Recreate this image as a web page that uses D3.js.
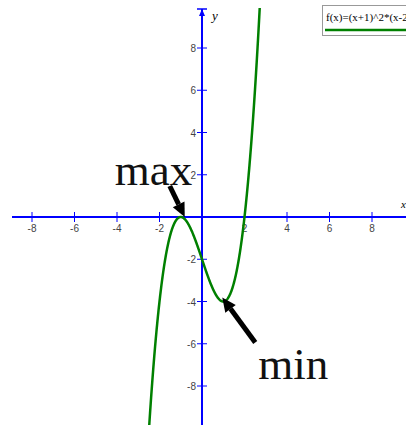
<!DOCTYPE html>
<html>
<head>
<meta charset="utf-8">
<title>f(x)=(x+1)^2*(x-2)</title>
<script src="https://d3js.org/d3.v7.min.js"></script>
<style>
  body { margin: 0; background: white; }
</style>
</head>
<body>
<script>
// data
var xTicks = [-8, -6, -4, -2, 2, 4, 6, 8];
var yTicks = [8, 6, 4, 2, -2, -4, -6, -8];
var legendLabels = ["f(x)=(x+1)^2*(x-2)"];
var extremaLabels = ["max", "min"];
var extremaX = [-1, 1];
var extremaY = [0, -4];

var width = 406, height = 425;

var svg = d3.select("body").append("svg")
  .attr("width", width)
  .attr("height", height);

var x = d3.scaleLinear().domain([-8, 8]).range([32, 372]);
var y = d3.scaleLinear().domain([-8, 8]).range([386, 48]);

// curve samples
function f(t) { return (t + 1) * (t + 1) * (t - 2); }
var curve = d3.range(x.invert(0), x.invert(width), 0.01).map(function (t) { return [t, f(t)]; });

svg.append("defs").append("clipPath").attr("id", "plot")
  .append("rect").attr("x", 0).attr("y", 8).attr("width", width).attr("height", height - 8);

// tick labels (drawn below curve)
var tickFont = "Liberation Sans, Arial, sans-serif";
svg.append("g").selectAll("text").data(xTicks).enter().append("text")
  .attr("x", function (d) { return x(d); })
  .attr("y", x(0) + 30)
  .attr("text-anchor", "middle")
  .attr("font-family", tickFont)
  .attr("font-size", 10)
  .attr("fill", "#444")
  .text(function (d) { return d; });

svg.append("g").selectAll("text").data(yTicks).enter().append("text")
  .attr("x", x(0) - 6)
  .attr("y", function (d) { return y(d) + 4; })
  .attr("text-anchor", "end")
  .attr("font-family", tickFont)
  .attr("font-size", 10)
  .attr("fill", "#444")
  .text(function (d) { return d; });

// axes
var ax = svg.append("g").attr("stroke", "#0000ff");
ax.append("line").attr("x1", 12).attr("x2", width).attr("y1", y(0)).attr("y2", y(0)).attr("stroke-width", 2);
ax.append("line").attr("x1", x(0)).attr("x2", x(0)).attr("y1", 9).attr("y2", height).attr("stroke-width", 2);
ax.append("line").attr("x1", x(0) - 5).attr("x2", x(0) + 5).attr("y1", 9).attr("y2", 9).attr("stroke-width", 1.5);
svg.append("path")
  .attr("d", "M" + x(0) + ",9 l-3,7 l6,0 z")
  .attr("fill", "#0000ff");

ax.selectAll(".xt").data(xTicks).enter().append("line")
  .attr("x1", function (d) { return x(d); })
  .attr("x2", function (d) { return x(d); })
  .attr("y1", y(0) - 5).attr("y2", y(0) + 5)
  .attr("stroke-width", 1);
ax.selectAll(".yt").data(yTicks).enter().append("line")
  .attr("y1", function (d) { return y(d); })
  .attr("y2", function (d) { return y(d); })
  .attr("x1", x(0) - 5).attr("x2", x(0) + 5)
  .attr("stroke-width", 1);

svg.append("text").attr("x", x(0) + 10).attr("y", 20)
  .attr("font-family", "Liberation Serif, serif").attr("font-style", "italic")
  .attr("font-size", 13).text("y");
svg.append("text").attr("x", 401).attr("y", y(0) - 9)
  .attr("font-family", "Liberation Serif, serif").attr("font-style", "italic")
  .attr("font-size", 11).text("x");

// curve
svg.append("path")
  .datum(curve)
  .attr("clip-path", "url(#plot)")
  .attr("fill", "none")
  .attr("stroke", "#008000")
  .attr("stroke-width", 2.5)
  .attr("d", d3.line().x(function (d) { return x(d[0]); }).y(function (d) { return y(d[1]); }));

// annotations: arrow from text towards the extremum
var tailOffsets = [[-15, -31], [33, 45]];
var textPos = [[-66, -32], [35, 77]];
extremaLabels.forEach(function (lab, i) {
  var tx = x(extremaX[i]) + (i === 0 ? 4 : -1);
  var ty = y(extremaY[i]) + (i === 0 ? 0 : -4);
  var sx = tx + tailOffsets[i][0], sy = ty + tailOffsets[i][1];
  var ang = Math.atan2(ty - sy, tx - sx);
  var hl = 14, hw = 6.5;
  var bx = tx - hl * Math.cos(ang), by = ty - hl * Math.sin(ang);
  var px = -Math.sin(ang), py = Math.cos(ang);
  svg.append("line")
    .attr("x1", sx).attr("y1", sy).attr("x2", bx).attr("y2", by)
    .attr("stroke", "black").attr("stroke-width", 5);
  svg.append("path")
    .attr("d", "M" + tx + "," + ty + "L" + (bx + px * hw) + "," + (by + py * hw) +
      "L" + (bx - px * hw) + "," + (by - py * hw) + "Z")
    .attr("fill", "black");
  svg.append("text")
    .attr("x", x(extremaX[i]) + textPos[i][0])
    .attr("y", y(extremaY[i]) + textPos[i][1])
    .attr("font-family", "Liberation Serif, Times New Roman, serif")
    .attr("font-size", 45)
    .attr("fill", "#111")
    .text(lab);
});

// legend
var lg = svg.append("g");
lg.append("rect").attr("x", 322.5).attr("y", 5.5).attr("width", 100).attr("height", 30)
  .attr("fill", "white").attr("stroke", "#999");
lg.selectAll("text").data(legendLabels).enter().append("text")
  .attr("x", 326).attr("y", 21)
  .attr("font-family", "Liberation Serif, serif")
  .attr("font-size", 11)
  .text(function (d) { return d; });
lg.append("line").attr("x1", 325).attr("x2", width).attr("y1", 30).attr("y2", 30)
  .attr("stroke", "#008000").attr("stroke-width", 2.5);
</script>
</body>
</html>
